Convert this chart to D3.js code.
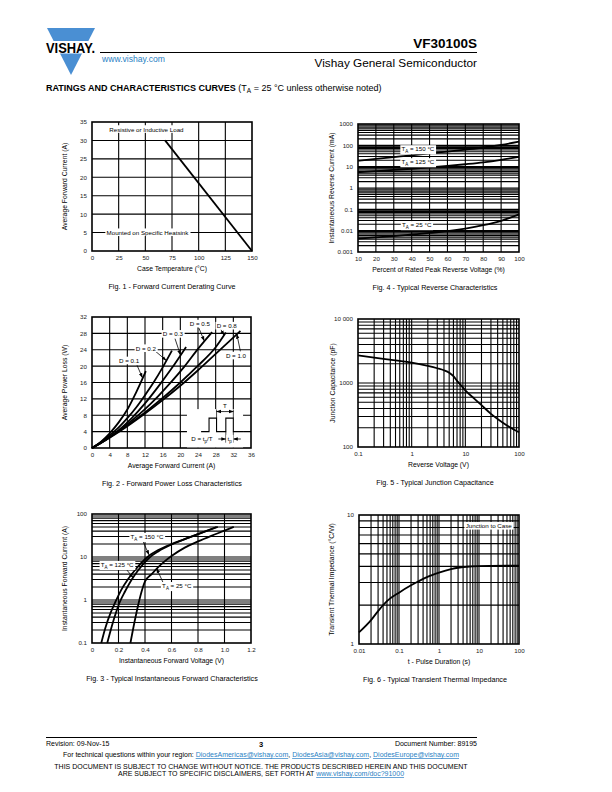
<!DOCTYPE html>
<html>
<head>
<meta charset="utf-8">
<script src="https://cdn.jsdelivr.net/npm/d3@7"></script>
<style>
body { margin: 0; background: #fff; }
svg { display: block; font-family: "Liberation Sans", Arial, Helvetica, sans-serif; }
</style>
</head>
<body>
<svg id="page" width="612" height="792"></svg>
<script>
// ---- Fig. 1 - derating curve
var fig1Temp = [68.5, 150];
var fig1Current = [30, 0];
var fig1XTicks = [0, 25, 50, 75, 100, 125, 150];
var fig1YTicks = [0, 5, 10, 15, 20, 25, 30, 35];

// ---- Fig. 4 - reverse characteristics
var fig4Volt = [10, 20, 30, 40, 50, 60, 70, 80, 90, 100];
var fig4I150 = [19, 23, 28, 34, 42, 51, 63, 79, 105, 150];
var fig4I125 = [5.5, 6.2, 7.0, 8.0, 9.2, 10.8, 13, 16, 21, 29];
var fig4I25 = [0.0042, 0.0048, 0.0056, 0.0066, 0.0078, 0.0095, 0.0125, 0.018, 0.029, 0.058];
var fig4XTicks = [10, 20, 30, 40, 50, 60, 70, 80, 90, 100];
var fig4YTicks = [0.001, 0.01, 0.1, 1, 10, 100, 1000];
var fig4YLabels = ["0.001", "0.01", "0.1", "1", "10", "100", "1000"];

// ---- Fig. 2 - forward power loss, one series per duty cycle
var fig2Duty = ["0.1", "0.2", "0.3", "0.5", "0.8", "1.0"];
var fig2I01 = [0, 2, 4, 6, 8, 10, 12.2];
var fig2P01 = [0, 1.5, 3.6, 6.2, 9.4, 13.6, 18.8];
var fig2I02 = [0, 2, 4, 6, 8, 10, 12, 14, 16, 18.1];
var fig2P02 = [0, 1.4, 3.1, 5.0, 7.3, 9.9, 12.9, 16.1, 19.7, 23.8];
var fig2I03 = [0, 3, 6, 9, 12, 15, 18, 21.3];
var fig2P03 = [0, 1.9, 4.3, 7.3, 10.9, 15.0, 19.4, 24.7];
var fig2I05 = [0, 3, 6, 9, 12, 15, 18, 21, 24, 27.2];
var fig2P05 = [0, 1.9, 4.2, 6.7, 9.5, 12.7, 16.2, 20.0, 24.2, 28.3];
var fig2I08 = [0, 4, 8, 12, 16, 20, 24, 28, 30.3];
var fig2P08 = [0, 2.6, 5.5, 8.7, 12.2, 16.0, 20.1, 24.6, 28.2];
var fig2I10 = [0, 4, 8, 12, 16, 20, 24, 28, 31, 33.6];
var fig2P10 = [0, 2.5, 5.3, 8.4, 11.7, 15.2, 19.0, 23.0, 26.0, 28.6];
var fig2XTicks = [0, 4, 8, 12, 16, 20, 24, 28, 32, 36];
var fig2YTicks = [0, 4, 8, 12, 16, 20, 24, 28, 32];

// ---- Fig. 5 - junction capacitance
var fig5Volt = [0.1, 0.2, 0.5, 1, 2, 3, 4, 5, 6, 7, 8, 10, 15, 20, 30, 50, 70, 100];
var fig5Cap = [2700, 2500, 2250, 2080, 1850, 1700, 1580, 1450, 1280, 1080, 950, 770, 560, 450, 330, 240, 200, 170];
var fig5XTicks = [0.1, 1, 10, 100];
var fig5XLabels = ["0.1", "1", "10", "100"];
var fig5YTicks = [100, 1000, 10000];
var fig5YLabels = ["100", "1000", "10 000"];

// ---- Fig. 3 - forward characteristics
var fig3V150 = [0.07, 0.1, 0.14, 0.18, 0.22, 0.27, 0.33, 0.41, 0.5, 0.6, 0.7, 0.8, 0.94];
var fig3I150 = [0.1, 0.22, 0.5, 0.95, 1.7, 3.0, 5.2, 9.5, 14.5, 20, 26, 34, 50];
var fig3V125 = [0.115, 0.15, 0.18, 0.21, 0.25, 0.3, 0.35, 0.43, 0.5, 0.6, 0.7, 0.8, 0.95];
var fig3I125 = [0.1, 0.25, 0.5, 0.9, 1.6, 3.0, 5.0, 9.5, 13.5, 19.5, 26, 34, 50];
var fig3V25 = [0.29, 0.32, 0.35, 0.38, 0.4, 0.45, 0.5, 0.55, 0.6, 0.7, 0.8, 0.9, 1.0, 1.07];
var fig3I25 = [0.1, 0.3, 0.8, 1.8, 2.7, 4.0, 5.8, 8.0, 10.5, 16.5, 23, 31, 41, 50];
var fig3XTicks = [0, 0.2, 0.4, 0.6, 0.8, 1.0, 1.2];
var fig3XLabels = ["0", "0.2", "0.4", "0.6", "0.8", "1.0", "1.2"];
var fig3YTicks = [0.1, 1, 10, 100];
var fig3YLabels = ["0.1", "1", "10", "100"];

// ---- Fig. 6 - transient thermal impedance
var fig6Time = [0.01, 0.02, 0.03, 0.05, 0.1, 0.2, 0.3, 0.5, 1, 2, 3, 5, 10, 20, 50, 100];
var fig6Z = [1.23, 1.53, 1.8, 2.15, 2.5, 2.85, 3.05, 3.3, 3.57, 3.8, 3.9, 3.97, 4.02, 4.04, 4.05, 4.05];
var fig6XTicks = [0.01, 0.1, 1, 10, 100];
var fig6XLabels = ["0.01", "0.1", "1", "10", "100"];
var fig6YTicks = [1, 10];
var fig6YLabels = ["1", "10"];

var blue = "#4a8fd3",
    link = "#2a7fc4";

var svg = d3.select("#page");

function zip(a, b) {
    return a.map(function(d, i) { return [d, b[i]]; });
}

// grid + frame + tick labels + titles for one chart
function panel(cfg) {
    var g = svg.append("g");
    var x = cfg.x, y = cfg.y;
    var xr = x.range(), yr = y.range();

    g.selectAll("line.vg")
        .data(cfg.xGrid)
        .enter()
        .append("line")
            .attr("x1", function(d) { return x(d); })
            .attr("x2", function(d) { return x(d); })
            .attr("y1", yr[0])
            .attr("y2", yr[1])
            .attr("stroke", "#000")
            .attr("stroke-width", 1.1);

    g.selectAll("line.hg")
        .data(cfg.yGrid)
        .enter()
        .append("line")
            .attr("x1", xr[0])
            .attr("x2", xr[1])
            .attr("y1", function(d) { return y(d); })
            .attr("y2", function(d) { return y(d); })
            .attr("stroke", "#000")
            .attr("stroke-width", 1.1);

    g.append("rect")
        .attr("x", xr[0])
        .attr("y", yr[1])
        .attr("width", xr[1] - xr[0])
        .attr("height", yr[0] - yr[1])
        .attr("fill", "none")
        .attr("stroke", "#000")
        .attr("stroke-width", 1.6);

    var xAxis = g.append("g")
        .attr("transform", "translate(0," + yr[0] + ")")
        .call(d3.axisBottom(x)
            .tickValues(cfg.xTicks)
            .tickFormat(function(d, i) { return cfg.xLabels ? cfg.xLabels[i] : String(d); })
            .tickSize(0)
            .tickPadding(5));
    var yAxis = g.append("g")
        .attr("transform", "translate(" + xr[0] + ",0)")
        .call(d3.axisLeft(y)
            .tickValues(cfg.yTicks)
            .tickFormat(function(d, i) { return cfg.yLabels ? cfg.yLabels[i] : String(d); })
            .tickSize(0)
            .tickPadding(5));
    [xAxis, yAxis].forEach(function(a) {
        a.select(".domain").remove();
        a.selectAll("text")
            .attr("font-family", "Liberation Sans, Arial, sans-serif")
            .attr("font-size", 6.2)
            .attr("fill", "#222");
    });

    var cx = (xr[0] + xr[1]) / 2;
    g.append("text")
        .attr("x", cx)
        .attr("y", yr[0] + 20)
        .attr("text-anchor", "middle")
        .attr("font-size", 6.8)
        .text(cfg.xTitle);

    g.append("text")
        .attr("transform", "translate(" + cfg.yTitleX + "," + ((yr[0] + yr[1]) / 2) + ") rotate(-90)")
        .attr("text-anchor", "middle")
        .attr("font-size", 6.8)
        .text(cfg.yTitle);

    g.append("text")
        .attr("x", cfg.capX)
        .attr("y", yr[0] + 38)
        .attr("text-anchor", "middle")
        .attr("font-size", 7.2)
        .text(cfg.caption);

    return g;
}

function curve(g, x, y, xs, ys) {
    g.append("path")
        .attr("d", d3.line()
            .x(function(d) { return x(d[0]); })
            .y(function(d) { return y(d[1]); })
            .curve(d3.curveMonotoneX)(zip(xs, ys)))
        .attr("fill", "none")
        .attr("stroke", "#000")
        .attr("stroke-width", 1.8);
}

// text on a white box; odd parts are subscripts
function label(g, px, py, parts, size) {
    size = size || 6.2;
    var t = g.append("text")
        .attr("x", px)
        .attr("y", py + size * 0.35)
        .attr("text-anchor", "middle")
        .attr("font-size", size);
    parts.forEach(function(p, i) {
        var s = t.append("tspan").text(p);
        if (i % 2 === 1) s.attr("font-size", size * 0.72).attr("dy", 1.5);
        else if (i > 0) s.attr("dy", -1.5);
    });
    var b = t.node().getBBox();
    g.insert("rect", function() { return t.node(); })
        .attr("x", b.x - 1.2)
        .attr("y", b.y - 0.3)
        .attr("width", b.width + 2.4)
        .attr("height", b.height + 0.6)
        .attr("fill", "#fff");
    return t;
}

svg.append("defs").append("marker")
    .attr("id", "arr")
    .attr("viewBox", "0 0 10 10")
    .attr("refX", 9)
    .attr("refY", 5)
    .attr("markerWidth", 5)
    .attr("markerHeight", 5)
    .attr("orient", "auto-start-reverse")
    .attr("markerUnits", "userSpaceOnUse")
    .append("path")
        .attr("d", "M0,1.5 L10,5 L0,8.5 Z")
        .attr("fill", "#000");

function arrow(g, x1, y1, x2, y2, both) {
    var l = g.append("line")
        .attr("x1", x1).attr("y1", y1)
        .attr("x2", x2).attr("y2", y2)
        .attr("stroke", "#000")
        .attr("stroke-width", 0.8)
        .attr("marker-end", "url(#arr)");
    if (both) l.attr("marker-start", "url(#arr)");
}

// ---------------- header
svg.append("polygon")
    .attr("points", "47,28 95,28 71,75")
    .attr("fill", blue);
svg.append("rect")
    .attr("x", 44).attr("y", 41).attr("width", 54).attr("height", 12.5)
    .attr("fill", "#fff");
svg.append("text")
    .attr("x", 46).attr("y", 52.8)
    .attr("font-size", 14.5)
    .attr("font-weight", "bold")
    .attr("textLength", 49)
    .attr("lengthAdjust", "spacingAndGlyphs")
    .text("VISHAY.");
svg.append("line")
    .attr("x1", 100).attr("x2", 477).attr("y1", 52.5).attr("y2", 52.5)
    .attr("stroke", "#000").attr("stroke-width", 1);
svg.append("text")
    .attr("x", 477).attr("y", 47.5)
    .attr("text-anchor", "end")
    .attr("font-size", 13.5)
    .attr("font-weight", "bold")
    .text("VF30100S");
svg.append("text")
    .attr("x", 102).attr("y", 62)
    .attr("font-size", 8.6)
    .attr("fill", link)
    .text("www.vishay.com");
svg.append("text")
    .attr("x", 477).attr("y", 66.5)
    .attr("text-anchor", "end")
    .attr("font-size", 11.8)
    .text("Vishay General Semiconductor");

var head = svg.append("text")
    .attr("x", 46).attr("y", 91);
head.append("tspan")
    .attr("font-size", 9)
    .attr("font-weight", "bold")
    .text("RATINGS AND CHARACTERISTICS CURVES");
head.append("tspan").attr("font-size", 9).text(" (T");
head.append("tspan").attr("font-size", 6.5).attr("dy", 2).text("A");
head.append("tspan").attr("font-size", 9).attr("dy", -2).text(" = 25 °C unless otherwise noted)");

// ---------------- Fig. 1
var x1 = d3.scaleLinear().domain([0, 150]).range([92, 252]);
var y1 = d3.scaleLinear().domain([0, 35]).range([251, 122]);
var g1 = panel({
    x: x1, y: y1,
    xGrid: [25, 50, 75, 100, 125], yGrid: [5, 10, 15, 20, 25, 30],
    xTicks: fig1XTicks, yTicks: fig1YTicks,
    xTitle: "Case Temperature (°C)",
    yTitle: "Average Forward Current (A)", yTitleX: 67,
    caption: "Fig. 1 - Forward Current Derating Curve", capX: 172
});
label(g1, x1(51), y1(33), ["Resistive or Inductive Load"]);
label(g1, x1(52), y1(5), ["Mounted on Specific Heatsink"]);
curve(g1, x1, y1, fig1Temp, fig1Current);

// ---------------- Fig. 4
var x4 = d3.scaleLinear().domain([10, 100]).range([358, 519]);
var y4 = d3.scaleLog().domain([0.001, 1000]).range([252, 124]);
var g4 = panel({
    x: x4, y: y4,
    xGrid: [20, 30, 40, 50, 60, 70, 80, 90],
    yGrid: y4.ticks().filter(function(d) { return d > 0.001 && d < 1000; }),
    xTicks: fig4XTicks, yTicks: fig4YTicks, yLabels: fig4YLabels,
    xTitle: "Percent of Rated Peak Reverse Voltage (%)",
    yTitle: "Instantaneous Reverse Current (mA)", yTitleX: 334,
    caption: "Fig. 4 - Typical Reverse Characteristics", capX: 435
});
curve(g4, x4, y4, fig4Volt, fig4I150);
curve(g4, x4, y4, fig4Volt, fig4I125);
curve(g4, x4, y4, fig4Volt, fig4I25);
label(g4, x4(43.5), y4(65), ["T", "A", " = 150 °C"]);
label(g4, x4(43.5), y4(16), ["T", "A", " = 125 °C"]);
label(g4, x4(42.8), y4(0.018), ["T", "A", " = 25 °C"]);

// ---------------- Fig. 2
var x2 = d3.scaleLinear().domain([0, 36]).range([92, 251]);
var y2 = d3.scaleLinear().domain([0, 32]).range([448, 317]);
var g2 = panel({
    x: x2, y: y2,
    xGrid: [4, 8, 12, 16, 20, 24, 28, 32], yGrid: [4, 8, 12, 16, 20, 24, 28],
    xTicks: fig2XTicks, yTicks: fig2YTicks,
    xTitle: "Average Forward Current (A)",
    yTitle: "Average Power Loss (W)", yTitleX: 67,
    caption: "Fig. 2 - Forward Power Loss Characteristics", capX: 172
});
// inset with the pulse sketch
g2.append("rect")
    .attr("x", x2(21.5)).attr("y", y2(9.5))
    .attr("width", x2(34.2) - x2(21.5)).attr("height", y2(0.15) - y2(9.5))
    .attr("fill", "#fff");
var pulseX = [24.7, 26.5, 26.5, 28.2, 28.2, 30.3, 30.3, 32.0, 32.0, 34.2];
var pulseY = [4, 4, 7.3, 7.3, 4, 4, 7.3, 7.3, 4, 4];
g2.append("path")
    .attr("d", d3.line()
        .x(function(d) { return x2(d[0]); })
        .y(function(d) { return y2(d[1]); })(zip(pulseX, pulseY)))
    .attr("fill", "none").attr("stroke", "#000").attr("stroke-width", 1.1);
[28.2, 32.0].forEach(function(v) {
    g2.append("line")
        .attr("x1", x2(v)).attr("x2", x2(v)).attr("y1", y2(7.3)).attr("y2", y2(9.4))
        .attr("stroke", "#000").attr("stroke-width", 0.7);
});
[30.3, 32.0].forEach(function(v) {
    g2.append("line")
        .attr("x1", x2(v)).attr("x2", x2(v)).attr("y1", y2(4)).attr("y2", y2(1.3))
        .attr("stroke", "#000").attr("stroke-width", 0.7);
});
arrow(g2, x2(30.1), y2(8.9), x2(32.0), y2(8.9));
arrow(g2, x2(30.1), y2(8.9), x2(28.2), y2(8.9));
label(g2, x2(30.1), y2(10.4), ["T"]);
arrow(g2, x2(28.6), y2(2.2), x2(30.3), y2(2.2));
arrow(g2, x2(33.7), y2(2.2), x2(32.0), y2(2.2));
label(g2, x2(31.15), y2(2.2), ["t", "p"]);
label(g2, x2(24.9), y2(2.2), ["D = t", "p", "/T"]);

curve(g2, x2, y2, fig2I01, fig2P01);
curve(g2, x2, y2, fig2I02, fig2P02);
curve(g2, x2, y2, fig2I03, fig2P03);
curve(g2, x2, y2, fig2I05, fig2P05);
curve(g2, x2, y2, fig2I08, fig2P08);
curve(g2, x2, y2, fig2I10, fig2P10);

arrow(g2, x2(10.2), y2(20.2), x2(11.4), y2(17.2));
arrow(g2, x2(14.4), y2(23.6), x2(16.8), y2(21.4));
arrow(g2, x2(18.8), y2(26.7), x2(20.0), y2(22.8));
arrow(g2, x2(24.2), y2(29.3), x2(25.4), y2(26.2));
arrow(g2, x2(29.2), y2(28.9), x2(29.9), y2(27.6));
arrow(g2, x2(33.6), y2(23.6), x2(32.8), y2(27.8));
label(g2, x2(8.4), y2(21.3), ["D = " + fig2Duty[0]]);
label(g2, x2(12.2), y2(24.3), ["D = " + fig2Duty[1]]);
label(g2, x2(18.3), y2(27.8), ["D = " + fig2Duty[2]]);
label(g2, x2(24.4), y2(30.3), ["D = " + fig2Duty[3]]);
label(g2, x2(30.5), y2(29.8), ["D = " + fig2Duty[4]]);
label(g2, x2(32.6), y2(22.5), ["D = " + fig2Duty[5]]);

// ---------------- Fig. 5
var x5 = d3.scaleLog().domain([0.1, 100]).range([358, 519]);
var y5 = d3.scaleLog().domain([100, 10000]).range([447, 319]);
var g5 = panel({
    x: x5, y: y5,
    xGrid: x5.ticks().filter(function(d) { return d > 0.1 && d < 100; }),
    yGrid: y5.ticks().filter(function(d) { return d > 100 && d < 10000; }),
    xTicks: fig5XTicks, xLabels: fig5XLabels, yTicks: fig5YTicks, yLabels: fig5YLabels,
    xTitle: "Reverse Voltage (V)",
    yTitle: "Junction Capacitance (pF)", yTitleX: 335,
    caption: "Fig. 5 - Typical Junction Capacitance", capX: 435
});
curve(g5, x5, y5, fig5Volt, fig5Cap);

// ---------------- Fig. 3
var x3 = d3.scaleLinear().domain([0, 1.2]).range([92, 251]);
var y3 = d3.scaleLog().domain([0.1, 100]).range([643, 514]);
var g3 = panel({
    x: x3, y: y3,
    xGrid: [0.2, 0.4, 0.6, 0.8, 1.0],
    yGrid: y3.ticks().filter(function(d) { return d > 0.1 && d < 100; }),
    xTicks: fig3XTicks, xLabels: fig3XLabels, yTicks: fig3YTicks, yLabels: fig3YLabels,
    xTitle: "Instantaneous Forward Voltage (V)",
    yTitle: "Instantaneous Forward Current (A)", yTitleX: 67,
    caption: "Fig. 3 - Typical Instantaneous Forward Characteristics", capX: 172
});
curve(g3, x3, y3, fig3V150, fig3I150);
curve(g3, x3, y3, fig3V125, fig3I125);
curve(g3, x3, y3, fig3V25, fig3I25);
arrow(g3, x3(0.385), y3(23), x3(0.43), y3(11.3));
arrow(g3, x3(0.25), y3(5.6), x3(0.31), y3(3.3));
arrow(g3, x3(0.54), y3(2.4), x3(0.488), y3(5.4));
label(g3, x3(0.415), y3(29), ["T", "A", " = 150 °C"]);
label(g3, x3(0.19), y3(6.5), ["T", "A", " = 125 °C"]);
label(g3, x3(0.64), y3(2.1), ["T", "A", " = 25 °C"]);

// ---------------- Fig. 6
var x6 = d3.scaleLog().domain([0.01, 100]).range([359, 519]);
var y6 = d3.scaleLog().domain([1, 10]).range([644, 515]);
var g6 = panel({
    x: x6, y: y6,
    xGrid: x6.ticks().filter(function(d) { return d > 0.01 && d < 100; }),
    yGrid: y6.ticks().filter(function(d) { return d > 1 && d < 10; }),
    xTicks: fig6XTicks, xLabels: fig6XLabels, yTicks: fig6YTicks, yLabels: fig6YLabels,
    xTitle: "t - Pulse Duration (s)",
    yTitle: "Transient Thermal Impedance (°C/W)", yTitleX: 334,
    caption: "Fig. 6 - Typical Transient Thermal Impedance", capX: 435
});
curve(g6, x6, y6, fig6Time, fig6Z);
label(g6, x6(17.5), y6(8.2), ["Junction to Case"]);

// ---------------- footer
svg.append("line")
    .attr("x1", 46).attr("x2", 477).attr("y1", 737.5).attr("y2", 737.5)
    .attr("stroke", "#000").attr("stroke-width", 1.2);
svg.append("text").attr("x", 46).attr("y", 745.5).attr("font-size", 7).text("Revision: 09-Nov-15");
svg.append("text").attr("x", 261).attr("y", 746.5).attr("font-size", 7.5)
    .attr("font-weight", "bold").attr("text-anchor", "middle").text("3");
svg.append("text").attr("x", 477).attr("y", 745.5).attr("font-size", 7)
    .attr("text-anchor", "end").text("Document Number: 89195");

var f2 = svg.append("text").attr("x", 261).attr("y", 757).attr("font-size", 7).attr("text-anchor", "middle");
f2.append("tspan").text("For technical questions within your region: ");
f2.append("tspan").attr("fill", link).attr("text-decoration", "underline").text("DiodesAmericas@vishay.com");
f2.append("tspan").text(", ");
f2.append("tspan").attr("fill", link).attr("text-decoration", "underline").text("DiodesAsia@vishay.com");
f2.append("tspan").text(", ");
f2.append("tspan").attr("fill", link).attr("text-decoration", "underline").text("DiodesEurope@vishay.com");

svg.append("text").attr("x", 261).attr("y", 768.5).attr("font-size", 7).attr("text-anchor", "middle")
    .text("THIS DOCUMENT IS SUBJECT TO CHANGE WITHOUT NOTICE. THE PRODUCTS DESCRIBED HEREIN AND THIS DOCUMENT");
var f4 = svg.append("text").attr("x", 261).attr("y", 776).attr("font-size", 7).attr("text-anchor", "middle");
f4.append("tspan").text("ARE SUBJECT TO SPECIFIC DISCLAIMERS, SET FORTH AT ");
f4.append("tspan").attr("fill", link).attr("text-decoration", "underline").text("www.vishay.com/doc?91000");
</script>
</body>
</html>
